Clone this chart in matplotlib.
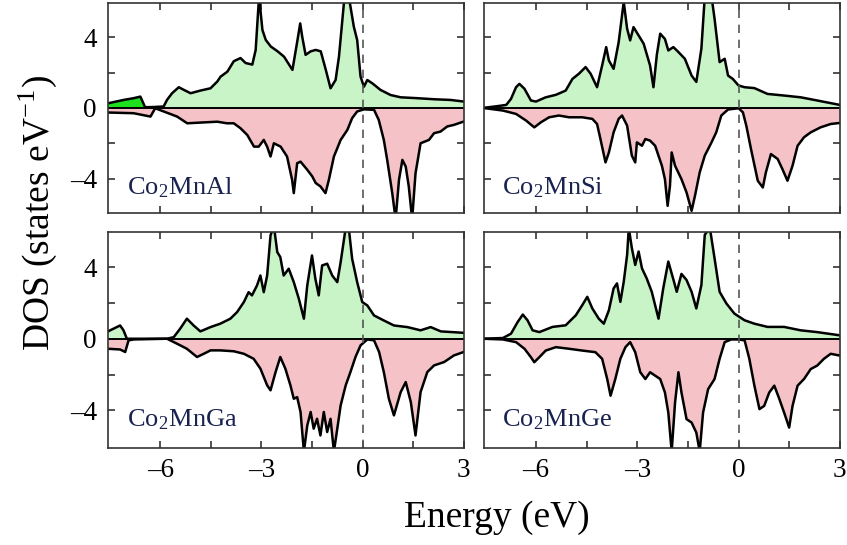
import numpy as np
import matplotlib
matplotlib.use("Agg")
import matplotlib.pyplot as plt

plt.rcParams['font.family'] = ['Liberation Serif', 'DejaVu Serif']
plt.rcParams['mathtext.fontset'] = 'stix'

# spin-resolved DOS, one (energy, value) list per channel
al_e_up = [-7.55, -7.09, -6.79, -6.59, -6.45, -6.2, -5.9, -5.8, -5.65, -5.45, -5.3, -5.1, -4.81, -4.51,
           -4.31, -4.21, -4.01, -3.82, -3.62, -3.47, -3.27, -3.17, -3.07, -2.97, -2.87, -2.72, -2.52,
           -2.33, -2.08, -1.93, -1.85, -1.79, -1.69, -1.54, -1.39, -1.24, -1.09, -0.95, -0.80, -0.70,
           -0.55, -0.40, -0.26, -0.16, -0.06, 0.04, 0.14, 0.29, 0.53, 0.83, 1.13, 1.62, 2.12, 2.61, 3.0]
al_up = [0.26, 0.45, 0.55, 0.64, 0.04, 0.05, 0.08, 0.45, 0.83, 1.17, 1.02, 0.83, 0.98, 1.11,
         1.49, 1.77, 2.05, 2.64, 2.82, 2.54, 2.45, 3.28, 6.3, 4.41, 3.84, 3.47, 3.2,
         2.9, 2.15, 3.84, 4.78, 4.03, 3.0, 3.2, 3.28, 3.2, 2.15, 1.11, 1.58, 2.9,
         6.0, 6.2, 4.6, 3.84, 1.77, 1.2, 1.58, 1.39, 1.02, 0.73, 0.6, 0.55, 0.49, 0.45, 0.36]
al_e_dn = [-7.55, -6.79, -6.29, -6.15, -5.9, -5.5, -5.2, -4.81, -4.31, -4.02, -3.82, -3.62, -3.42,
           -3.22, -3.08, -2.93, -2.83, -2.73, -2.63, -2.43, -2.24, -2.09, -2.04, -1.94, -1.84, -1.64,
           -1.49, -1.39, -1.25, -1.10, -1.0, -0.85, -0.65, -0.45, -0.31, -0.16, 0.04, 0.34, 0.48,
           0.63, 0.73, 0.88, 0.98, 1.08, 1.18, 1.28, 1.37, 1.47, 1.57, 1.72, 1.97, 2.12, 2.31, 2.51,
           2.71, 3.0]
al_dn = [-0.26, -0.30, -0.49, -0.02, -0.2, -0.49, -0.87, -0.83, -0.78, -0.87, -0.87, -1.15, -1.53,
         -2.19, -2.19, -1.81, -2.19, -2.75, -2.0, -2.19, -2.75, -4.07, -4.82, -3.13, -3.04, -3.5,
         -3.88, -4.25, -4.44, -4.82, -4.07, -2.75, -1.81, -1.24, -0.58, -0.2, -0.08, -0.11, -0.68,
         -1.81, -2.94, -4.82, -6.3, -4.07, -2.94, -3.32, -4.44, -6.3, -3.7, -2.0, -1.81, -1.43, -1.34,
         -1.05, -0.96, -0.77]

si_e_up = [-7.57, -7.18, -6.88, -6.74, -6.59, -6.49, -6.34, -6.15, -6.0, -5.71, -5.41, -5.12, -4.92,
           -4.73, -4.53, -4.38, -4.19, -4.04, -3.92, -3.84, -3.70, -3.55, -3.40, -3.30, -3.21, -3.11,
           -2.96, -2.81, -2.62, -2.52, -2.42, -2.32, -2.18, -2.08, -1.93, -1.78, -1.59, -1.39, -1.25,
           -1.10, -1.0, -0.80, -0.71, -0.56, -0.41, -0.31, -0.17, 0.0, 0.18, 0.47, 0.86, 1.35, 1.84,
           2.33, 3.0]
si_up = [0.0, 0.09, 0.17, 0.51, 1.17, 1.36, 1.08, 0.42, 0.36, 0.6, 0.74, 0.98, 1.64,
         1.93, 2.31, 1.93, 1.17, 2.40, 3.44, 2.68, 2.21, 3.72, 6.0, 4.48, 3.82, 4.57,
         4.1, 3.63, 2.4, 1.17, 3.0, 4.2, 3.9, 3.25, 3.44, 3.16, 2.78, 1.83, 1.47,
         3.35, 6.3, 6.3, 5.05, 2.59, 2.78, 1.83, 1.64, 1.27, 1.17, 1.12, 0.79, 0.70, 0.6,
         0.42, 0.17]
si_e_dn = [-7.57, -6.98, -6.59, -6.29, -6.05, -5.85, -5.61, -5.32, -5.02, -4.63, -4.33, -4.19, -4.09,
           -3.94, -3.84, -3.70, -3.55, -3.45, -3.30, -3.16, -3.06, -3.01, -2.86, -2.76, -2.62, -2.47,
           -2.27, -2.18, -2.10, -2.03, -1.98, -1.88, -1.69, -1.54, -1.39, -1.29, -1.15, -1.0, -0.80,
           -0.66, -0.51, -0.31, 0.0, 0.13, 0.23, 0.37, 0.57, 0.72, 0.81, 0.96, 1.16, 1.30, 1.45, 1.60,
           1.75, 1.94, 2.14, 2.43, 2.73, 3.0]
si_dn = [0.0, -0.15, -0.34, -0.72, -1.10, -0.81, -0.53, -0.43, -0.53, -0.53, -0.62, -0.91, -1.76,
         -3.08, -2.52, -1.38, -0.62, -0.43, -1.0, -2.7, -3.08, -1.95, -2.14, -1.76, -1.85, -2.14,
         -3.27, -4.03, -5.54, -4.4, -2.52, -3.27, -4.03, -4.78, -5.82, -4.97, -3.65, -2.7, -1.95,
         -1.38, -0.43, -0.09, -0.02, -0.25, -1.0, -2.33, -4.12, -4.5, -3.65, -2.61, -2.89, -3.46,
         -4.12, -3.27, -2.14, -1.66, -1.38, -1.10, -0.91, -0.85]

ga_e_up = [-7.55, -7.29, -7.19, -7.09, -6.99, -5.80, -5.60, -5.41, -5.21, -5.01, -4.81, -4.51, -4.22,
           -3.92, -3.72, -3.52, -3.38, -3.28, -3.13, -3.03, -2.93, -2.83, -2.73, -2.63, -2.53, -2.44,
           -2.34, -2.19, -2.04, -1.89, -1.74, -1.64, -1.50, -1.40, -1.30, -1.20, -1.05, -0.90, -0.75,
           -0.65, -0.50, -0.41, -0.31, -0.16, -0.01, 0.14, 0.34, 0.63, 0.93, 1.33, 1.72, 2.02, 2.32,
           3.0]
ga_up = [0.41, 0.65, 0.74, 0.47, 0.0, 0.0, 0.09, 0.56, 1.12, 0.74, 0.41, 0.65, 0.84,
         1.12, 1.49, 2.05, 2.6, 2.42, 2.98, 3.53, 2.6, 3.53, 5.77, 6.3, 4.84, 4.56,
         3.53, 3.91, 3.16, 2.23, 1.12, 2.98, 4.65, 3.35, 2.42, 4.09, 4.19, 3.53, 3.16,
         4.28, 6.2, 6.2, 4.47, 3.16, 2.05, 1.86, 1.30, 1.02, 0.74, 0.65, 0.47, 0.65, 0.41,
         0.33]
ga_e_dn = [-7.55, -7.19, -7.04, -6.94, -6.79, -5.80, -5.50, -5.21, -4.91, -4.71, -4.51, -4.22, -3.82,
           -3.52, -3.23, -3.03, -2.83, -2.73, -2.58, -2.44, -2.29, -2.14, -2.04, -1.94, -1.84, -1.74,
           -1.64, -1.54, -1.45, -1.35, -1.25, -1.15, -1.05, -0.95, -0.85, -0.75, -0.65, -0.50, -0.36,
           -0.21, -0.06, 0.14, 0.34, 0.49, 0.63, 0.78, 0.93, 1.13, 1.28, 1.43, 1.57, 1.72, 1.92, 2.12,
           2.42, 2.71, 3.0]
ga_dn = [-0.56, -0.6, -0.74, -0.09, -0.04, 0.0, -0.28, -0.56, -1.02, -0.84, -0.65, -0.65, -0.7,
         -0.84, -1.12, -1.67, -2.60, -2.88, -1.86, -1.02, -1.67, -2.60, -3.35, -3.26, -4.09, -6.3,
         -4.84, -4.09, -5.02, -4.47, -5.40, -4.09, -5.21, -4.47, -6.3, -5.02, -3.72, -2.6, -1.86,
         -1.02, -0.37, -0.04, -0.09, -0.74, -1.86, -3.35, -4.28, -2.98, -2.42, -3.53, -5.4, -2.98,
         -1.86, -1.49, -1.30, -0.93, -0.74]

ge_e_up = [-7.57, -6.98, -6.74, -6.54, -6.39, -6.25, -6.10, -5.90, -5.51, -5.12, -4.82, -4.63, -4.48,
           -4.33, -4.14, -3.99, -3.84, -3.70, -3.60, -3.50, -3.40, -3.30, -3.25, -3.16, -3.06, -2.96,
           -2.86, -2.72, -2.57, -2.37, -2.23, -2.08, -1.93, -1.83, -1.69, -1.54, -1.39, -1.25, -1.10,
           -1.0, -0.85, -0.71, -0.56, -0.36, -0.12, 0.18, 0.47, 0.86, 1.35, 1.84, 2.33, 3.0]
ge_up = [0.0, 0.04, 0.28, 0.94, 1.35, 1.03, 0.47, 0.37, 0.66, 0.75, 1.31, 1.87, 2.34,
         1.69, 1.12, 0.84, 1.59, 2.81, 3.09, 2.06, 3.18, 4.68, 6.2, 5.06, 4.12, 4.87,
         3.93, 3.37, 2.62, 1.12, 2.81, 4.31, 3.31, 2.62, 3.62, 3.28, 2.62, 1.69, 3.0,
         5.8, 6.2, 4.49, 2.62, 1.97, 1.40, 1.03, 0.84, 0.66, 0.66, 0.47, 0.37, 0.19]
ge_e_dn = [-7.57, -6.98, -6.59, -6.34, -6.15, -6.05, -5.90, -5.71, -5.41, -5.02, -4.63, -4.24, -4.04,
           -3.89, -3.79, -3.65, -3.50, -3.35, -3.21, -3.06, -2.91, -2.76, -2.62, -2.47, -2.32, -2.18,
           -2.08, -1.98, -1.88, -1.78, -1.69, -1.54, -1.39, -1.25, -1.15, -1.05, -0.90, -0.71, -0.56,
           -0.41, -0.22, 0.0, 0.18, 0.32, 0.47, 0.62, 0.76, 0.91, 1.06, 1.21, 1.35, 1.50, 1.60, 1.75,
           1.94, 2.14, 2.33, 2.53, 2.73, 3.0]
ge_dn = [0.0, -0.04, -0.19, -0.56, -1.03, -1.31, -1.03, -0.66, -0.47, -0.56, -0.66, -0.75, -1.12,
         -2.25, -3.18, -2.25, -1.12, -0.47, -0.19, -0.75, -1.87, -2.25, -1.87, -2.06, -2.25, -3.0,
         -4.12, -6.3, -3.56, -1.87, -3.0, -4.49, -4.68, -5.24, -6.3, -4.12, -2.81, -2.25, -1.12,
         -0.19, -0.04, -0.04, -0.09, -1.12, -2.62, -3.93, -3.75, -3.0, -2.62, -3.37, -4.12, -4.96,
         -3.75, -2.62, -2.25, -1.69, -1.50, -1.12, -0.84, -0.94]

names = [r'Co$_\mathregular{2}$MnAl', r'Co$_\mathregular{2}$MnSi',
         r'Co$_\mathregular{2}$MnGa', r'Co$_\mathregular{2}$MnGe']
panels = [(al_e_up, al_up, al_e_dn, al_dn), (si_e_up, si_up, si_e_dn, si_dn),
          (ga_e_up, ga_up, ga_e_dn, ga_dn), (ge_e_up, ge_up, ge_e_dn, ge_dn)]

xticks = [-6, -4.5, -3, -1.5, 0, 1.5, 3]
xticklabels = ['–6', '', '–3', '', '0', '', '3']
yticks = [-4, -2, 0, 2, 4]
yticklabels = ['–4', '', '0', '', '4']

green = '#c8f4c8'
bright = '#1ee01e'
pink = '#f5c2c7'

fig = plt.figure(figsize=(8.47, 5.45), dpi=100)
boxes = [(0.1275, 0.609, 0.42, 0.386), (0.571, 0.609, 0.4205, 0.386),
         (0.1275, 0.178, 0.42, 0.396), (0.571, 0.178, 0.4205, 0.396)]

for i, (box, name, (eu, du, ed, dd)) in enumerate(zip(boxes, names, panels)):
    ax = fig.add_axes(box)
    eu, du, ed, dd = map(np.array, (eu, du, ed, dd))
    ax.fill_between(eu, 0, du, color=green, lw=0)
    ax.fill_between(ed, 0, dd, color=pink, lw=0)
    if i == 0:
        # lowest-lying band of the Al compound is shaded darker
        ax.fill_between(eu, 0, du, where=eu <= -6.45, color=bright, lw=0)
    ax.plot(eu, du, color='k', lw=1.8)
    ax.plot(ed, dd, color='k', lw=1.8)
    ax.axhline(0, color='k', lw=1.4)
    ax.axvline(0, color='#555555', lw=1.2, ls=(0, (5, 4)))
    ax.set_xlim(-7.55, 3.0)
    ax.set_ylim(-5.95, 5.95) if i < 2 else ax.set_ylim(-6.1, 5.95)
    ax.set_xticks(xticks)
    ax.set_yticks(yticks)
    ax.set_xticklabels(xticklabels if i >= 2 else [''] * len(xticks))
    ax.set_yticklabels(yticklabels if i % 2 == 0 else [''] * len(yticks))
    ax.tick_params(direction='in', top=True, right=True, length=5, width=1.1,
                   labelsize=19.5, color='#222222')
    ax.tick_params(axis='x', pad=7)
    ax.tick_params(axis='y', pad=8)
    for s in ax.spines.values():
        s.set_linewidth(1.2)
        s.set_color('#333333')
    ax.text(-7.0, -4.9, name, fontsize=19, color='#1a2350', va='baseline')

fig.text(0.045, 0.61, r'DOS (states eV$^{\mathregular{-1}}$)', rotation=90,
         ha='center', va='center', fontsize=27)
fig.text(0.587, 0.05, 'Energy (eV)', ha='center', va='center', fontsize=27)

fig.savefig('out.png', dpi=100)
